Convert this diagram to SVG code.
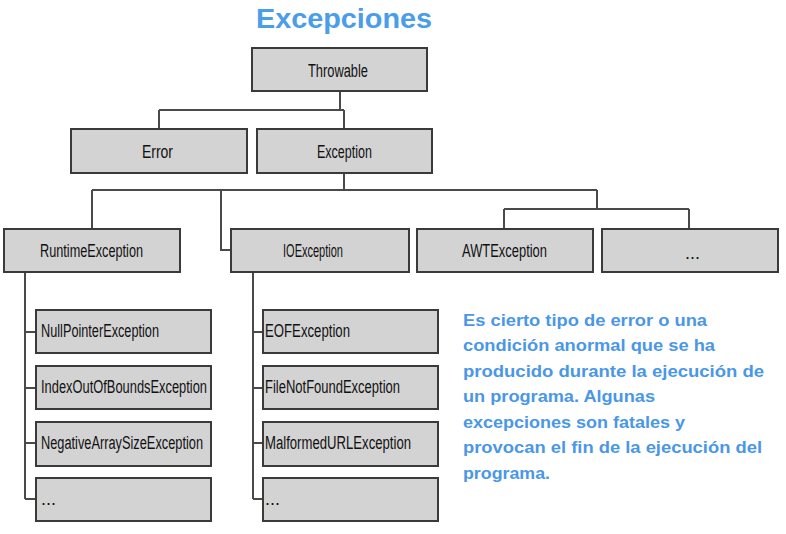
<svg xmlns="http://www.w3.org/2000/svg" width="786" height="534" viewBox="0 0 786 534">
<style>
.box{fill:#d3d3d3;stroke:#3a3a3a;stroke-width:2}
.lbl{font-family:"Liberation Sans",Arial,sans-serif;font-size:18px;fill:#111}
.con{fill:none;stroke:#4a4a4a;stroke-width:2}
.desc{font-family:"Liberation Sans",Arial,sans-serif;font-size:17px;font-weight:bold;fill:#4a97e8}
.title{font-family:"Liberation Sans",Arial,sans-serif;font-size:28px;font-weight:bold;fill:#4a9de8}
</style>
<rect width="786" height="534" fill="#ffffff"/>
<text class="title" x="256" y="28" textLength="176" lengthAdjust="spacingAndGlyphs">Excepciones</text>
<g id="connectors">
<path class="con" d="M340 91V110M159 110H344M159 110V129M344 110V129"/>
<path class="con" d="M344 173V190M92 190H597M92 190V229M221 190V250H231M597 190V209M504 209H689M504 209V229M689 209V229"/>
<path class="con" d="M25 272V499M25 332H36M25 388H36M25 443H36M25 499H36"/>
<path class="con" d="M253 272V499M253 332H263M253 388H263M253 443H263M253 499H263"/>
</g>
<g id="throwable"><rect class="box" x="252" y="48" width="175" height="43"/><text class="lbl" x="308" y="77" textLength="60" lengthAdjust="spacingAndGlyphs">Throwable</text></g>
<g id="error"><rect class="box" x="71" y="129" width="176" height="44"/><text class="lbl" x="142" y="158" textLength="31" lengthAdjust="spacingAndGlyphs">Error</text></g>
<g id="exception"><rect class="box" x="257" y="129" width="175" height="44"/><text class="lbl" x="317" y="158" textLength="55" lengthAdjust="spacingAndGlyphs">Exception</text></g>
<g id="runtime"><rect class="box" x="4" y="229" width="176" height="43"/><text class="lbl" x="40" y="257" textLength="103" lengthAdjust="spacingAndGlyphs">RuntimeException</text></g>
<g id="ioexception"><rect class="box" x="231" y="229" width="178" height="43"/><text class="lbl" x="283" y="257" textLength="60" lengthAdjust="spacingAndGlyphs">IOException</text></g>
<g id="awt"><rect class="box" x="417" y="229" width="176" height="43"/><text class="lbl" x="462" y="257" textLength="85" lengthAdjust="spacingAndGlyphs">AWTException</text></g>
<g id="other"><rect class="box" x="602" y="229" width="176" height="43"/><text class="lbl" x="685" y="259" font-size="12">...</text></g>
<g id="nullpointer"><rect class="box" x="36" y="310" width="175" height="43"/><text class="lbl" x="41" y="337" textLength="118" lengthAdjust="spacingAndGlyphs">NullPointerException</text></g>
<g id="indexoutofbounds"><rect class="box" x="36" y="366" width="175" height="43"/><text class="lbl" x="41" y="393" textLength="166" lengthAdjust="spacingAndGlyphs">IndexOutOfBoundsException</text></g>
<g id="negativearraysize"><rect class="box" x="36" y="422" width="175" height="44"/><text class="lbl" x="41" y="449" textLength="162" lengthAdjust="spacingAndGlyphs">NegativeArraySizeException</text></g>
<g id="runtime-more"><rect class="box" x="36" y="478" width="175" height="43"/><text class="lbl" x="41" y="505" font-size="12">...</text></g>
<g id="eof"><rect class="box" x="263" y="310" width="175" height="43"/><text class="lbl" x="265" y="337" textLength="85" lengthAdjust="spacingAndGlyphs">EOFException</text></g>
<g id="filenotfound"><rect class="box" x="263" y="366" width="175" height="43"/><text class="lbl" x="265" y="393" textLength="135" lengthAdjust="spacingAndGlyphs">FileNotFoundException</text></g>
<g id="malformedurl"><rect class="box" x="263" y="422" width="175" height="44"/><text class="lbl" x="265" y="449" textLength="146" lengthAdjust="spacingAndGlyphs">MalformedURLException</text></g>
<g id="io-more"><rect class="box" x="263" y="478" width="175" height="43"/><text class="lbl" x="265" y="505" font-size="12">...</text></g>
<g id="description">
<text class="desc" x="463" y="326" textLength="244" lengthAdjust="spacingAndGlyphs">Es cierto tipo de error o una</text>
<text class="desc" x="463" y="351" textLength="252" lengthAdjust="spacingAndGlyphs">condición anormal que se ha</text>
<text class="desc" x="463" y="377" textLength="301" lengthAdjust="spacingAndGlyphs">producido durante la ejecución de</text>
<text class="desc" x="463" y="402" textLength="192" lengthAdjust="spacingAndGlyphs">un programa. Algunas</text>
<text class="desc" x="463" y="428" textLength="222" lengthAdjust="spacingAndGlyphs">excepciones son fatales y</text>
<text class="desc" x="463" y="453" textLength="299" lengthAdjust="spacingAndGlyphs">provocan el fin de la ejecución del</text>
<text class="desc" x="463" y="479" textLength="87" lengthAdjust="spacingAndGlyphs">programa.</text>
</g>
</svg>
